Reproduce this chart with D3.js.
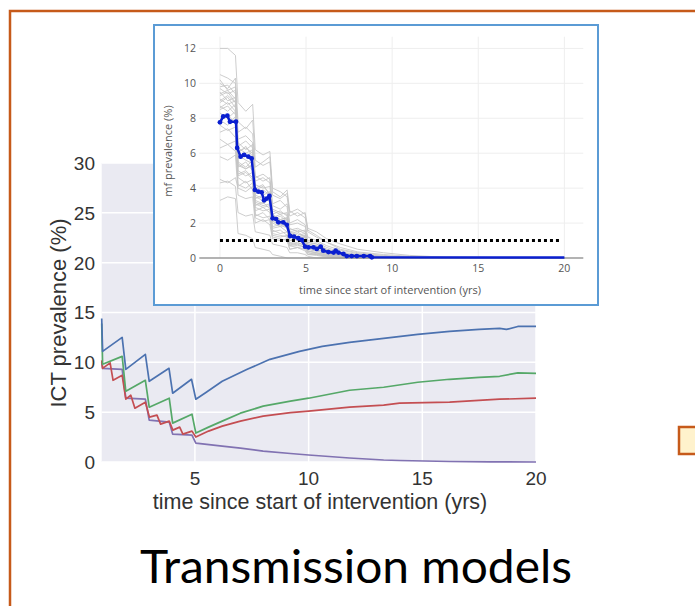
<!DOCTYPE html>
<html>
<head>
<meta charset="utf-8">
<script src="https://cdnjs.cloudflare.com/ajax/libs/d3/7.8.5/d3.min.js"></script>
<style>
  body { margin: 0; background: #fff; }
  svg { display: block; }
</style>
</head>
<body>
<script>
// ---- main chart (ICT prevalence) ----
var ictTicksX = [5, 10, 15, 20];
var ictTicksY = [0, 5, 10, 15, 20, 25, 30];

var ictBlue = [[0.9,14.4],[0.94,11.1],[1.80,12.5],[1.96,9.3],[2.82,10.8],[2.99,8.1],[3.86,9.4],[4.02,6.9],
  [4.85,8.3],[5.04,6.3],[5.5,7.0],[6.2,8.1],[7.3,9.3],[8.3,10.3],[9.6,11.1],[10.6,11.6],[11.8,12.0],
  [13.3,12.4],[14.8,12.8],[16.2,13.1],[17.5,13.3],[18.4,13.4],[18.7,13.3],[19.2,13.6],[20,13.6]];
var ictGreen = [[0.9,13.9],[0.94,9.8],[1.80,10.6],[1.96,7.1],[2.82,8.2],[2.99,5.5],[3.87,6.4],[4.02,3.9],
  [4.87,4.8],[5.04,2.9],[5.6,3.5],[6.2,4.1],[7.0,4.9],[8.0,5.6],[9.2,6.1],[10.0,6.4],[11.8,7.2],
  [13.3,7.5],[14.8,8.0],[16.2,8.3],[17.5,8.5],[18.4,8.6],[19.2,8.95],[20,8.9]];
var ictRed = [[0.9,10.2],[0.94,9.4],[1.27,9.95],[1.40,8.2],[1.80,8.7],[1.96,6.3],[2.18,6.7],[2.36,5.4],
  [2.82,6.0],[3.0,4.5],[3.33,4.7],[3.49,3.8],[3.87,4.1],[4.03,3.2],[4.33,3.5],[4.47,2.8],[4.87,3.1],
  [5.04,2.5],[5.6,3.1],[6.2,3.6],[7.0,4.1],[8.0,4.6],[9.2,4.95],[10.0,5.1],[11.8,5.5],[13.3,5.7],
  [14.0,5.9],[16.2,6.0],[18.4,6.3],[20,6.4]];
var ictPurple = [[0.9,10.0],[0.94,9.4],[1.80,9.3],[1.96,6.4],[2.82,6.3],[2.99,4.2],[3.87,4.0],[4.02,2.8],
  [4.87,2.7],[5.04,1.9],[6.2,1.6],[7.0,1.4],[8.0,1.1],[9.2,0.85],[10.0,0.7],[11.8,0.4],[13.3,0.2],
  [14.0,0.15],[16.2,0.05],[18,0.02],[20,0.0]];

// ---- inset chart (mf prevalence) ----
var mfTicksX = [0, 5, 10, 15, 20];
var mfTicksY = [0, 2, 4, 6, 8, 10, 12];
var mfThreshold = 1;

var greyT = [0, 0.45, 0.9, 1.05, 1.5, 1.9, 2.05, 2.5, 2.9, 3.05, 3.5, 3.9, 4.05, 4.5, 4.95, 5.1, 5.6, 6.2, 7, 8, 9.5, 11, 13, 20];
var greyRuns = [
  [12.0,12.0,11.6,8.9,8.4,8.8,6.2,5.9,6.1,4.0,3.8,3.5,2.4,2.6,2.3,1.5,1.2,0.9,0.5,0.3,0.15,0.05,0,0],
  [10.5,10.3,10.0,6.8,7.0,6.6,4.4,4.6,4.3,2.8,2.6,2.5,1.5,1.6,1.4,0.8,0.7,0.4,0.25,0.1,0.05,0,0,0],
  [10.2,9.6,9.8,6.3,6.0,6.2,4.0,4.2,3.6,2.2,2.4,2.1,1.3,1.1,1.2,0.7,0.5,0.3,0.2,0.1,0,0,0,0],
  [9.8,9.9,9.4,6.0,6.4,5.8,3.9,3.6,3.8,2.5,2.2,2.3,1.4,1.5,1.2,0.6,0.6,0.35,0.15,0.1,0.05,0,0,0],
  [9.5,9.0,9.2,5.5,5.2,5.6,3.4,3.6,3.2,2.0,1.8,1.9,1.0,1.1,0.9,0.5,0.4,0.2,0.1,0.05,0,0,0,0],
  [9.3,9.5,8.9,6.6,6.2,6.5,4.7,4.4,4.6,3.1,3.3,2.9,1.9,2.0,1.8,1.0,0.9,0.6,0.35,0.2,0.1,0.05,0,0],
  [9.1,8.8,9.0,5.9,5.6,5.4,3.5,3.3,3.4,2.1,1.9,2.0,1.2,1.0,1.1,0.6,0.5,0.3,0.15,0.1,0.05,0,0,0],
  [8.9,9.2,8.6,5.2,5.5,5.0,3.0,3.2,2.8,1.7,1.8,1.5,0.9,0.8,0.9,0.4,0.3,0.2,0.1,0,0,0,0,0],
  [8.7,8.4,8.8,6.1,6.3,6.0,4.2,4.0,4.1,2.7,2.5,2.6,1.7,1.5,1.6,0.9,0.8,0.5,0.3,0.15,0.05,0,0,0],
  [8.5,8.7,8.2,5.0,4.7,4.9,2.9,2.7,2.8,1.6,1.4,1.5,0.8,0.9,0.7,0.4,0.3,0.15,0.05,0,0,0,0,0],
  [8.3,8.0,8.4,6.0,5.8,6.1,3.9,4.1,3.7,2.4,2.2,2.3,1.4,1.2,1.3,0.7,0.6,0.4,0.2,0.1,0.05,0,0,0],
  [8.0,8.2,7.7,4.7,4.9,4.5,2.7,2.9,2.6,1.5,1.6,1.3,0.8,0.7,0.8,0.4,0.3,0.15,0.1,0,0,0,0,0],
  [7.6,7.3,7.5,5.4,5.1,5.3,3.6,3.4,3.5,2.3,2.1,2.2,1.3,1.4,1.2,0.7,0.6,0.4,0.2,0.1,0.05,0,0,0],
  [7.2,7.4,6.9,4.2,4.0,4.3,2.5,2.3,2.4,1.4,1.3,1.2,0.7,0.8,0.6,0.3,0.25,0.1,0.05,0,0,0,0,0],
  [6.8,6.5,6.7,4.1,4.4,3.9,2.4,2.6,2.2,1.3,1.2,1.3,0.7,0.6,0.7,0.3,0.2,0.1,0.05,0,0,0,0,0],
  [6.3,6.5,6.1,4.6,4.3,4.5,3.2,3.0,3.1,2.1,2.2,1.9,1.3,1.1,1.2,0.7,0.6,0.4,0.25,0.1,0.05,0,0,0],
  [5.8,5.6,5.9,3.6,3.4,3.5,2.0,2.2,1.9,1.1,1.0,1.1,0.5,0.6,0.5,0.2,0.2,0.1,0,0,0,0,0,0],
  [4.5,4.3,4.6,4.0,3.8,4.1,3.3,3.1,3.4,2.5,2.7,2.4,1.6,1.7,1.5,0.9,0.8,0.5,0.3,0.15,0.05,0,0,0],
  [4.3,4.4,4.1,2.6,2.4,2.5,1.5,1.4,1.3,0.8,0.7,0.6,0.3,0.3,0.2,0.1,0,0,0,0,0,0,0,0],
  [3.3,3.5,3.4,1.4,1.3,1.1,0.6,0.5,0.4,0.2,0.1,0,0,0,0,0,0,0,0,0,0,0,0,0],
  [9.7,9.4,9.6,7.2,7.5,7.1,5.2,5.5,5.8,3.6,3.4,3.7,2.6,2.8,2.5,1.6,1.3,0.9,0.6,0.35,0.2,0.1,0.05,0],
  [9.0,9.3,8.9,4.8,5.0,4.6,2.3,2.1,2.2,1.2,1.1,1.0,0.5,0.6,0.4,0.2,0.15,0.05,0,0,0,0,0,0],
  [10.0,9.7,10.3,7.8,7.4,7.9,5.6,5.3,5.5,3.8,3.5,3.9,2.7,2.4,2.6,1.7,1.5,1.1,0.8,0.5,0.3,0.15,0.05,0],
  [8.6,8.9,8.4,6.4,6.7,6.3,4.6,4.8,4.5,3.0,2.8,3.1,2.0,2.2,1.9,1.2,1.0,0.7,0.45,0.25,0.1,0.05,0,0],
  [7.9,7.6,8.1,5.7,5.9,5.5,3.7,3.9,3.6,2.3,2.5,2.2,1.5,1.3,1.4,0.8,0.7,0.45,0.25,0.15,0.05,0,0,0],
  [9.4,9.6,9.1,5.3,5.1,5.4,3.1,2.9,3.0,1.8,1.9,1.7,1.0,1.1,0.9,0.5,0.4,0.25,0.1,0.05,0,0,0,0]
];

var mfMeanT = [0,0.19,0.43,0.58,0.93,1.0,1.2,1.4,1.65,1.84,2.03,2.23,2.42,2.56,2.71,2.87,3.06,3.26,3.39,3.68,
  3.88,4.07,4.3,4.55,4.75,4.94,5.14,5.43,5.62,5.85,6.0,6.3,6.6,6.72,6.88,7.17,7.36,7.65,7.95,8.35,8.72,8.82,20];
var mfMeanV = [7.77,8.1,8.15,7.8,7.8,6.3,5.8,5.9,5.8,5.7,3.9,3.8,3.76,3.3,3.4,3.55,2.27,2.23,2.04,2.04,
  1.9,1.26,1.22,1.13,1.03,0.65,0.61,0.61,0.52,0.65,0.42,0.34,0.31,0.42,0.31,0.23,0.11,0.11,0.11,0.11,0.11,0.04,0.03];

var W = 695, H = 606;
var svg = d3.select("body").append("svg").attr("width", W).attr("height", H);
svg.append("rect").attr("width", W).attr("height", H).attr("fill", "#fff");

// slide frame
svg.append("path")
  .attr("d", "M10,606 L10,11 L695,11")
  .attr("fill", "none").attr("stroke", "#c65a1a").attr("stroke-width", 2.5);

// ---------------- main chart ----------------
var x = d3.scaleLinear().domain([0.9, 20]).range([101.7, 536]);
var y = d3.scaleLinear().domain([0, 30]).range([462, 163]);

var main = svg.append("g");
main.append("rect")
  .attr("x", x(0.9)).attr("y", y(30))
  .attr("width", x(20) - x(0.9)).attr("height", y(0) - y(30))
  .attr("fill", "#eaeaf2");

main.selectAll(".hg").data(ictTicksY).enter().append("line")
  .attr("x1", x(0.9)).attr("x2", x(20))
  .attr("y1", function(d) { return y(d); }).attr("y2", function(d) { return y(d); })
  .attr("stroke", "#fff").attr("stroke-width", 1.5);
main.selectAll(".vg").data(ictTicksX).enter().append("line")
  .attr("x1", function(d) { return x(d); }).attr("x2", function(d) { return x(d); })
  .attr("y1", y(0)).attr("y2", y(30))
  .attr("stroke", "#fff").attr("stroke-width", 1.5);

main.selectAll(".yl").data(ictTicksY).enter().append("text")
  .attr("x", 95).attr("y", function(d) { return y(d); }).attr("dy", "0.36em")
  .attr("text-anchor", "end")
  .style("font-family", "Liberation Sans, Arial, sans-serif").style("font-size", "19px").style("fill", "#333")
  .text(function(d) { return d; });
main.selectAll(".xl").data(ictTicksX).enter().append("text")
  .attr("x", function(d) { return x(d); }).attr("y", 485)
  .attr("text-anchor", "middle")
  .style("font-family", "Liberation Sans, Arial, sans-serif").style("font-size", "19px").style("fill", "#333")
  .text(function(d) { return d; });

main.append("text")
  .attr("transform", "translate(66,313) rotate(-90)")
  .attr("text-anchor", "middle")
  .style("font-family", "Liberation Sans, Arial, sans-serif").style("font-size", "22px").style("fill", "#333")
  .text("ICT prevalence (%)");
main.append("text")
  .attr("x", 320).attr("y", 509)
  .attr("text-anchor", "middle")
  .style("font-family", "Liberation Sans, Arial, sans-serif").style("font-size", "21.5px").style("fill", "#333")
  .text("time since start of intervention (yrs)");

var ictLine = d3.line().x(function(d) { return x(d[0]); }).y(function(d) { return y(d[1]); });
[[ictPurple, "#8172b2"], [ictRed, "#c44e52"], [ictGreen, "#55a868"], [ictBlue, "#4c72b0"]].forEach(function(s) {
  main.append("path").datum(s[0])
    .attr("d", ictLine)
    .attr("fill", "none").attr("stroke", s[1]).attr("stroke-width", 1.7)
    .attr("stroke-linejoin", "round");
});

// ---------------- inset chart ----------------
var inset = svg.append("g");
inset.append("rect")
  .attr("x", 154).attr("y", 25).attr("width", 444).attr("height", 280)
  .attr("fill", "#fff").attr("stroke", "#5b9bd5").attr("stroke-width", 2);

var xi = d3.scaleLinear().domain([-1.2, 21.1]).range([199.3, 583.3]);
var yi = d3.scaleLinear().domain([0, 12.67]).range([258, 36.7]);

inset.selectAll(".ihg").data(mfTicksY.slice(1)).enter().append("line")
  .attr("x1", xi(-1.2)).attr("x2", xi(21.1))
  .attr("y1", function(d) { return yi(d); }).attr("y2", function(d) { return yi(d); })
  .attr("stroke", "#eeeeee").attr("stroke-width", 1);
inset.selectAll(".ivg").data(mfTicksX).enter().append("line")
  .attr("x1", function(d) { return xi(d); }).attr("x2", function(d) { return xi(d); })
  .attr("y1", yi(0)).attr("y2", yi(12.67))
  .attr("stroke", "#eeeeee").attr("stroke-width", 1);

var greyLine = d3.line()
  .x(function(d, i) { return xi(greyT[i]); })
  .y(function(d) { return yi(d); });
inset.selectAll(".run").data(greyRuns).enter().append("path")
  .attr("d", greyLine)
  .attr("fill", "none").attr("stroke", "#c4c4c4").attr("stroke-width", 1)
  .attr("stroke-opacity", 0.85);

inset.append("line")
  .attr("x1", xi(-1.2)).attr("x2", xi(21.1))
  .attr("y1", yi(0)).attr("y2", yi(0))
  .attr("stroke", "#9a9a9a").attr("stroke-width", 1.5);

inset.append("line")
  .attr("x1", xi(0)).attr("x2", xi(19.8))
  .attr("y1", yi(mfThreshold)).attr("y2", yi(mfThreshold))
  .attr("stroke", "#000").attr("stroke-width", 3).attr("stroke-dasharray", "3,3");

var meanPts = mfMeanT.map(function(t, i) { return [t, mfMeanV[i]]; });
inset.append("path").datum(meanPts)
  .attr("d", d3.line().x(function(d) { return xi(d[0]); }).y(function(d) { return yi(d[1]); }))
  .attr("fill", "none").attr("stroke", "#0a1fd0").attr("stroke-width", 2.5);
inset.selectAll(".mk").data(meanPts.slice(0, meanPts.length - 1)).enter().append("circle")
  .attr("cx", function(d) { return xi(d[0]); }).attr("cy", function(d) { return yi(d[1]); })
  .attr("r", 2.4).attr("fill", "#0a1fd0");

inset.selectAll(".iyl").data(mfTicksY).enter().append("text")
  .attr("x", 196).attr("y", function(d) { return yi(d); }).attr("dy", "0.35em")
  .attr("text-anchor", "end")
  .style("font-family", "Open Sans, sans-serif").style("font-size", "10.5px").style("fill", "#555")
  .text(function(d) { return d; });
inset.selectAll(".ixl").data(mfTicksX).enter().append("text")
  .attr("x", function(d) { return xi(d); }).attr("y", 272)
  .attr("text-anchor", "middle")
  .style("font-family", "Open Sans, sans-serif").style("font-size", "10.5px").style("fill", "#555")
  .text(function(d) { return d; });
inset.append("text")
  .attr("transform", "translate(172,151) rotate(-90)")
  .attr("text-anchor", "middle")
  .style("font-family", "Open Sans, sans-serif").style("font-size", "11px").style("fill", "#555")
  .text("mf prevalence (%)");
inset.append("text")
  .attr("x", 390).attr("y", 294)
  .attr("text-anchor", "middle")
  .style("font-family", "Open Sans, sans-serif").style("font-size", "11px").style("fill", "#555")
  .text("time since start of intervention (yrs)");

// small box at the right edge
svg.append("rect")
  .attr("x", 679).attr("y", 427).attr("width", 30).attr("height", 27)
  .attr("fill", "#fff2cc").attr("stroke", "#c65a1a").attr("stroke-width", 2.5);

// caption
svg.append("text")
  .attr("x", 356).attr("y", 583)
  .attr("text-anchor", "middle")
  .attr("textLength", 432).attr("lengthAdjust", "spacingAndGlyphs")
  .style("font-family", "Lato, Open Sans, sans-serif").style("font-size", "46px").style("fill", "#000")
  .text("Transmission models");
</script>
</body>
</html>
